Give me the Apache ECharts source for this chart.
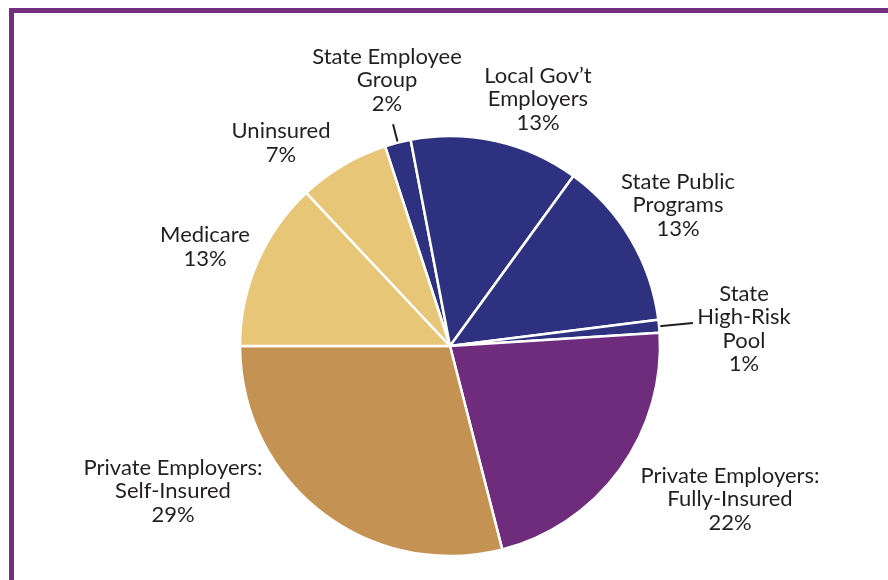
<!DOCTYPE html>
<html>
<head>
<meta charset="utf-8">
<script src="https://cdn.jsdelivr.net/npm/echarts@6/dist/echarts.min.js"></script>
<style>
  html, body { margin: 0; padding: 0; background: #ffffff; }
  #chart { width: 888px; height: 580px; }
</style>
</head>
<body>
<div id="chart"></div>
<script>
// Sources of health coverage, clockwise from the top
const categories = [
  'State Employee\nGroup',
  'Local Gov\u2019t\nEmployers',
  'State Public\nPrograms',
  'State\nHigh-Risk\nPool',
  'Private Employers:\nFully-Insured',
  'Private Employers:\nSelf-Insured',
  'Medicare',
  'Uninsured'
];
const shares = [2, 13, 13, 1, 22, 29, 13, 7];
const sliceColors = ['#2e3180', '#2e3180', '#2e3180', '#2e3180', '#6f2c7d', '#c49252', '#e8c677', '#e8c677'];

const CENTER = [450, 346];
const RADIUS = 210;
const START_ANGLE = 108; // degrees, counter-clockwise from 3 o'clock

// Where each label block sits, centred on the point
const labelSpots = [
  [387, 80], [538, 99], [678, 205], [744, 329],
  [730, 499], [173, 491], [205, 247], [281, 143]
];
// Radial leader lines for the two thin slices: [inner, outer] radius offsets
const leaders = { 0: [-20, 19], 3: [-5, 34] };

// Mid angle (radians, screen coords) of a slice, from the shares
function midAngle(i) {
  const total = shares.reduce((a, b) => a + b, 0);
  let before = 0;
  for (let k = 0; k < i; k++) before += shares[k];
  const deg = START_ANGLE - (before + shares[i] / 2) / total * 360;
  return deg * Math.PI / 180;
}
function polar(angle, r) {
  return [CENTER[0] + r * Math.cos(angle), CENTER[1] - r * Math.sin(angle)];
}

const chart = echarts.init(document.getElementById('chart'), null, { renderer: 'canvas' });

chart.setOption({
  backgroundColor: '#ffffff',
  animation: false,
  graphic: [
    { type: 'rect', shape: { x: 9, y: 8, width: 900, height: 5 }, style: { fill: '#742f80' } },
    { type: 'rect', shape: { x: 9, y: 8, width: 5, height: 600 }, style: { fill: '#742f80' } }
  ],
  series: [{
    type: 'pie',
    center: CENTER,
    radius: [0, RADIUS],
    startAngle: START_ANGLE,
    clockwise: true,
    avoidLabelOverlap: false,
    itemStyle: { borderColor: '#ffffff', borderWidth: 2.5 },
    label: {
      show: true,
      position: 'outside',
      formatter: p => p.name + '\n' + p.value + '%',
      fontFamily: 'Lato, "Open Sans", sans-serif',
      fontSize: 22,
      lineHeight: 23.5,
      color: '#231f20',
      align: 'center'
    },
    labelLine: {
      show: true,
      lineStyle: { color: '#231f20', width: 2 }
    },
    labelLayout: function (params) {
      const i = params.dataIndex;
      const s = labelSpots[i];
      const out = { x: s[0], y: s[1], align: 'center', verticalAlign: 'middle' };
      if (leaders[i]) {
        const a = midAngle(i);
        const p0 = polar(a, RADIUS + leaders[i][0]);
        const p1 = polar(a, RADIUS + leaders[i][1]);
        out.labelLinePoints = [p0, p1, p1];
      }
      return out;
    },
    data: categories.map((name, i) => ({
      name: name,
      value: shares[i],
      itemStyle: { color: sliceColors[i] },
      labelLine: { show: !!leaders[i] }
    }))
  }]
});
</script>
</body>
</html>
